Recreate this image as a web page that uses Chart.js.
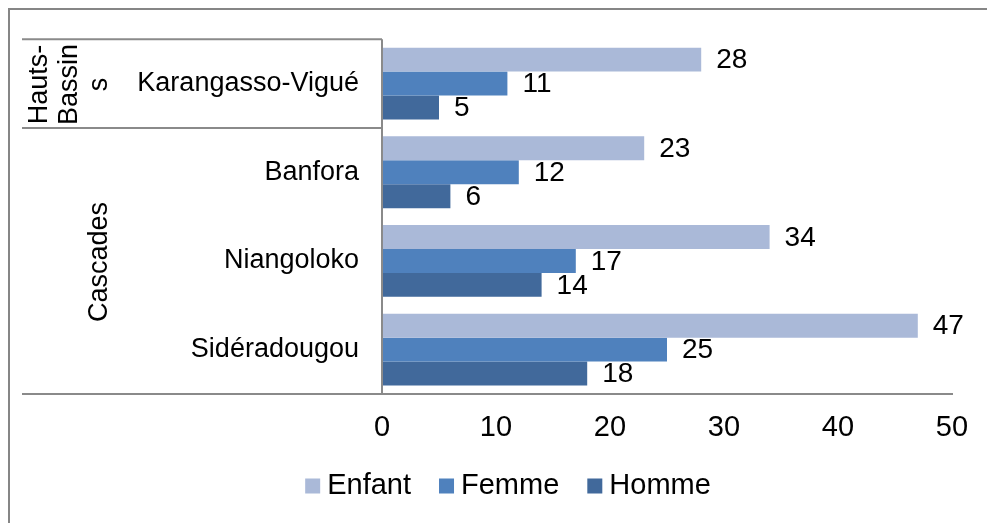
<!DOCTYPE html>
<html>
<head>
<meta charset="utf-8">
<script src="https://cdn.jsdelivr.net/npm/chart.js@4.4.1/dist/chart.umd.min.js"></script>
<style>
  body { margin: 0; background: #fff; }
  canvas { display: block; }
</style>
</head>
<body>
<canvas id="chart" width="987" height="523"></canvas>
<script>
// data
const categories = ['Karangasso-Vigué', 'Banfora', 'Niangoloko', 'Sidéradougou']
const regionNames = ['Hauts-Bassins', 'Cascades']
const regionSizes = [1, 3]
const enfant = [28, 23, 34, 47]
const femme = [11, 12, 17, 25]
const homme = [5, 6, 14, 18]
const seriesNames = ['Enfant', 'Femme', 'Homme']
const xTicks = [0, 10, 20, 30, 40, 50]

const FONT = "'Liberation Sans', Arial, sans-serif"
const LINE = '#8a8a8a'

Chart.defaults.font.family = FONT
Chart.defaults.color = '#000'

// region label wrapped the way the original shows it
const regionLines = {
  'Hauts-Bassins': ['Hauts-', 'Bassin', 's']
}

const framePlugin = {
  id: 'frame',
  beforeDraw(chart) {
    const ctx = chart.ctx
    ctx.save()
    ctx.fillStyle = '#fff'
    ctx.fillRect(0, 0, chart.width, chart.height)
    // outer border (right and bottom are cut off)
    ctx.strokeStyle = '#868686'
    ctx.lineWidth = 2
    ctx.beginPath()
    ctx.moveTo(9, chart.height)
    ctx.lineTo(9, 9)
    ctx.lineTo(chart.width, 9)
    ctx.stroke()
    ctx.restore()
  },
  afterDraw(chart) {
    const ctx = chart.ctx
    const area = chart.chartArea
    const y = chart.scales.y
    const step = (area.bottom - area.top) / categories.length
    const left = 22
    ctx.save()
    ctx.strokeStyle = LINE
    ctx.lineWidth = 2
    // vertical axis line
    ctx.beginPath()
    ctx.moveTo(area.left, area.top)
    ctx.lineTo(area.left, area.bottom)
    ctx.stroke()
    // region separators
    let idx = 0
    const edges = [y.getPixelForValue(0) - step / 2]
    regionSizes.forEach(n => {
      idx += n
      edges.push(y.getPixelForValue(idx - 1) + step / 2)
    })
    edges.forEach((e, i) => {
      ctx.beginPath()
      ctx.moveTo(left, e)
      ctx.lineTo(i === edges.length - 1 ? area.right + 1 : area.left, e)
      ctx.stroke()
    })
    // region labels
    ctx.fillStyle = '#000'
    ctx.font = '27px ' + FONT
    ctx.textAlign = 'center'
    ctx.textBaseline = 'middle'
    regionNames.forEach((name, i) => {
      const mid = (edges[i] + edges[i + 1]) / 2
      const lines = regionLines[name] || [name]
      const x0 = lines.length > 1 ? 40 : 100
      lines.forEach((t, j) => {
        ctx.save()
        ctx.translate(x0 + j * 30, mid + 1)
        ctx.rotate(-Math.PI / 2)
        ctx.fillText(t, 0, 0)
        ctx.restore()
      })
    })
    // legend
    ctx.font = '29px ' + FONT
    const box = 15, gap = 7, between = 28
    const items = chart.data.datasets.map(ds => ({
      label: ds.label, color: ds.backgroundColor, w: ctx.measureText(ds.label).width
    }))
    let total = 0
    items.forEach((it, i) => { total += box + gap + it.w + (i ? between : 0) })
    let lx = 508 - total / 2
    const ly = 486
    ctx.textAlign = 'left'
    ctx.textBaseline = 'middle'
    items.forEach(it => {
      ctx.fillStyle = it.color
      ctx.fillRect(lx, ly - box / 2, box, box)
      ctx.fillStyle = '#000'
      ctx.fillText(it.label, lx + box + gap, ly)
      lx += box + gap + it.w + between
    })
    ctx.restore()
  },
  afterDatasetsDraw(chart) {
    const ctx = chart.ctx
    ctx.save()
    ctx.font = '28px ' + FONT
    ctx.fillStyle = '#000'
    ctx.textAlign = 'left'
    ctx.textBaseline = 'middle'
    chart.data.datasets.forEach((ds, i) => {
      chart.getDatasetMeta(i).data.forEach((bar, j) => {
        ctx.fillText(ds.data[j], bar.x + 15, bar.y + 1)
      })
    })
    ctx.restore()
  }
}

new Chart(document.getElementById('chart'), {
  type: 'bar',
  data: {
    labels: categories,
    datasets: [
      { label: seriesNames[0], data: enfant, backgroundColor: '#aab9d8' },
      { label: seriesNames[1], data: femme, backgroundColor: '#4f81bd' },
      { label: seriesNames[2], data: homme, backgroundColor: '#41699b' }
    ]
  },
  options: {
    indexAxis: 'y',
    responsive: false,
    animation: false,
    layout: { padding: { left: 22, top: 38, right: 35, bottom: 74 } },
    datasets: { bar: { categoryPercentage: 0.81, barPercentage: 1 } },
    plugins: { legend: { display: false }, tooltip: { enabled: false } },
    scales: {
      x: {
        min: xTicks[0],
        max: xTicks[xTicks.length - 1],
        afterBuildTicks: s => { s.ticks = xTicks.map(v => ({ value: v })) },
        grid: { display: false, drawTicks: false },
        border: { display: false },
        ticks: { font: { size: 29 }, padding: 17, maxRotation: 0 },
        afterFit: s => { s.height = 55 }
      },
      y: {
        grid: { display: false, drawTicks: false },
        border: { display: false },
        ticks: { font: { size: 27 }, padding: 23 },
        afterFit: s => { s.width = 360 }
      }
    }
  },
  plugins: [framePlugin]
})
</script>
</body>
</html>
